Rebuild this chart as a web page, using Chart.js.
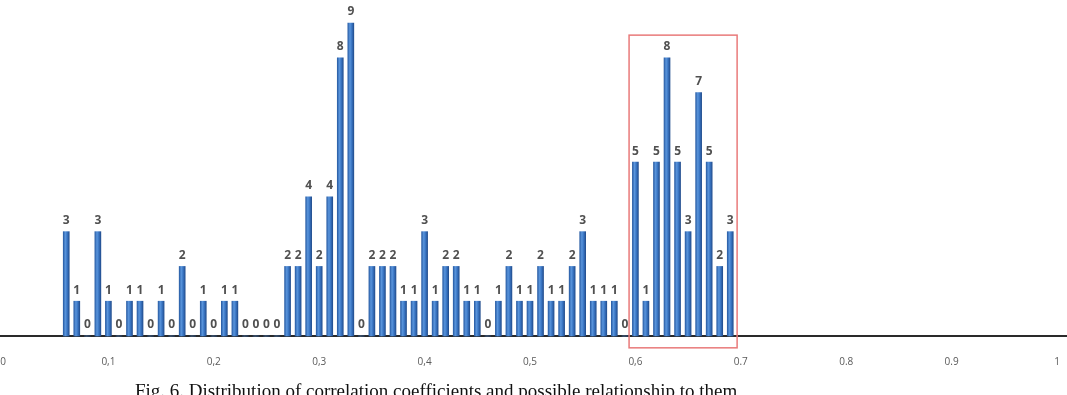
<!DOCTYPE html>
<html>
<head>
<meta charset="utf-8">
<script src="https://cdn.jsdelivr.net/npm/chart.js@4/dist/chart.umd.min.js"></script>
<style>
  html, body { margin: 0; padding: 0; background: #fff; overflow: hidden; }
  #wrap { position: relative; width: 1067px; height: 395px; overflow: hidden; }
  #caption { position: absolute; left: 135px; top: 380px; font-family: "Liberation Serif", "DejaVu Serif", serif; font-size: 19px; color: #111; white-space: nowrap; }
</style>
</head>
<body>
<div id="wrap">
  <canvas id="c" width="1067" height="395"></canvas>
  <div id="caption">Fig. 6. Distribution of correlation coefficients and possible relationship to them</div>
</div>
<script>
// bin positions (correlation coefficient) and counts
const bins = [0.06,0.07,0.08,0.09,0.10,0.11,0.12,0.13,0.14,0.15,0.16,0.17,0.18,0.19,0.20,0.21,0.22,0.23,0.24,0.25,0.26,0.27,0.28,0.29,0.30,0.31,0.32,0.33,0.34,0.35,0.36,0.37,0.38,0.39,0.40,0.41,0.42,0.43,0.44,0.45,0.46,0.47,0.48,0.49,0.50,0.51,0.52,0.53,0.54,0.55,0.56,0.57,0.58,0.59,0.60,0.61,0.62,0.63,0.64,0.65,0.66,0.67,0.68,0.69];
const counts = [3,1,0,3,1,0,1,1,0,1,0,2,0,1,0,1,1,0,0,0,0,2,2,4,2,4,8,9,0,2,2,2,1,1,3,1,2,2,1,1,0,1,2,1,1,2,1,1,2,3,1,1,1,0,5,1,5,8,5,3,7,5,2,3];
const tickValues = [0,0.1,0.2,0.3,0.4,0.5,0.6,0.7,0.8,0.9,1];
const tickLabels = ["0","0,1","0,2","0,3","0,4","0,5","0,6","0.7","0.8","0.9","1"];
// highlighted range (red box)
const highlightRange = [0.594, 0.6965];

const points = bins.map((b, i) => ({x: b, y: counts[i]}));

function barFill(ctx) {
  const chart = ctx.chart;
  const xs = chart.scales && chart.scales.x;
  if (!xs || !ctx.raw) return '#3a74c0';
  const cx = xs.getPixelForValue(ctx.raw.x);
  if (!isFinite(cx)) return '#3a74c0';
  const g = chart.ctx.createLinearGradient(cx - 3, 0, cx + 3, 0);
  g.addColorStop(0, '#2a5ea6');
  g.addColorStop(0.35, '#5a95dc');
  g.addColorStop(0.65, '#3a76c4');
  g.addColorStop(1, '#234f90');
  return g;
}

const labelPlugin = {
  id: 'barLabels',
  afterDatasetsDraw(chart) {
    const ctx = chart.ctx;
    const meta = chart.getDatasetMeta(0);
    ctx.save();
    ctx.font = 'bold 12px "Open Sans", "Liberation Sans", sans-serif';
    ctx.fillStyle = '#505050';
    ctx.textAlign = 'center';
    ctx.textBaseline = 'middle';
    meta.data.forEach((el, i) => {
      ctx.fillText(String(counts[i]), el.x, el.y - 11);
    });
    // x tick labels
    const xs = chart.scales.x;
    ctx.font = '10px "Liberation Sans Narrow", "Open Sans", sans-serif';
    ctx.fillStyle = '#5a5a5a';
    tickValues.forEach((v, i) => {
      ctx.fillText(tickLabels[i], xs.getPixelForValue(v), chart.chartArea.bottom + 26);
    });
    ctx.restore();
  }
};

const boxPlugin = {
  id: 'highlightBox',
  afterDatasetsDraw(chart) {
    const xs = chart.scales.x, ys = chart.scales.y;
    const x0 = xs.getPixelForValue(highlightRange[0]);
    const x1 = xs.getPixelForValue(highlightRange[1]);
    const y0 = ys.getPixelForValue(8.65);
    const y1 = ys.getPixelForValue(-0.34);
    const ctx = chart.ctx;
    ctx.save();
    ctx.strokeStyle = '#e97a7a';
    ctx.lineWidth = 1.5;
    ctx.strokeRect(x0, y0, x1 - x0, y1 - y0);
    ctx.restore();
  }
};

new Chart(document.getElementById('c'), {
  type: 'bar',
  data: {
    datasets: [{
      data: points,
      backgroundColor: barFill,
      borderWidth: 0,
      barThickness: 6,
      clip: false
    }]
  },
  options: {
    responsive: false,
    animation: false,
    events: [],
    layout: { autoPadding: false, padding: { left: 0, right: 0, top: 0, bottom: 59 } },
    plugins: { legend: { display: false }, tooltip: { enabled: false } },
    scales: {
      x: {
        type: 'linear',
        min: -0.00285,
        max: 1.00949,
        offset: false,
        grid: { display: false, drawTicks: false },
        border: { display: true, color: '#2a2a2a', width: 2 },
        ticks: { display: false }
      },
      y: {
        display: false,
        min: 0,
        max: 9.66
      }
    }
  },
  plugins: [labelPlugin, boxPlugin]
});
</script>
</body>
</html>
